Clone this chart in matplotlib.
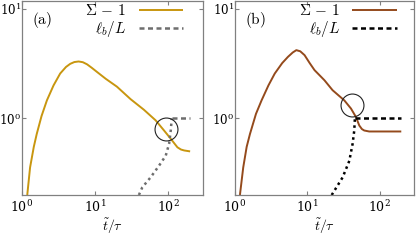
import numpy as np
import matplotlib.pyplot as plt

plt.rcParams['mathtext.fontset'] = 'cm'
plt.rcParams['font.family'] = 'serif'
plt.rcParams['font.serif'] = ['DejaVu Serif']
plt.rcParams['font.size'] = 9

# panel (a): Sigma - 1 and l_b/L
a_sig_t = [1.18, 1.29, 1.45, 1.59, 1.85, 2.19, 2.7, 3.33, 4.0, 4.57, 5.2, 5.95, 6.8, 7.76, 9.0,
           10.6, 14.0, 19.9, 30.6, 46.6, 67.5, 87.9, 108.6, 122, 134, 150, 166, 200]
a_sig_y = [0.2, 0.357, 0.55, 0.72, 1.05, 1.46, 2.0, 2.57, 2.95, 3.15, 3.27, 3.31, 3.26, 3.12, 2.9,
           2.66, 2.3, 1.95, 1.5, 1.2, 0.96, 0.776, 0.652, 0.59, 0.545, 0.52, 0.51, 0.50]
a_lb_t = [39.8, 44.3, 57.6, 75, 92.7, 103, 108.6, 111, 112, 200]
a_lb_y = [0.2, 0.235, 0.29, 0.37, 0.457, 0.586, 0.776, 0.925, 1.0, 1.0]
a_circ = (92.7, 0.80)

# panel (b)
b_sig_t = [1.17, 1.30, 1.45, 1.61, 1.95, 2.33, 2.9, 3.55, 4.5, 5.41, 6.3, 7.06, 8.0, 9.18, 10.8,
           12.6, 17.3, 22.4, 32.6, 40.3, 47.2, 52.4, 57.0, 61.4, 71.9, 200]
b_sig_y = [0.2, 0.357, 0.55, 0.72, 1.1, 1.46, 2.0, 2.57, 3.2, 3.65, 4.0, 4.2, 4.1, 3.78, 3.2,
           2.76, 2.23, 1.81, 1.46, 1.23, 1.03, 0.863, 0.80, 0.776, 0.76, 0.76]
b_lb_t = [21.8, 30.9, 38.2, 42.4, 44.7, 45.6, 200]
b_lb_y = [0.2, 0.29, 0.41, 0.586, 0.776, 1.0, 1.0]
b_circ = (41.0, 1.32)

gold = '#C8960F'
brown = '#944A1C'

fig = plt.figure(figsize=(4.16, 2.41), dpi=100)
ax1 = fig.add_axes([22/416, 46/241, 181/416, 194/241])
ax2 = fig.add_axes([235/416, 46/241, 179/416, 194/241])


def draw(ax, st, sy, lt, ly, circ, col, dcol, tag, lx):
    ax.plot(st, sy, color=col, lw=1.4, label=r'$\Sigma\,-\,1$', solid_capstyle='butt')
    k = ly.index(1.0)
    ax.plot(lt[:k + 1], ly[:k + 1], color=dcol, lw=1.8, ls=(0, (1.0, 1.4)))
    ax.plot(lt[k:], ly[k:], color=dcol, lw=1.8, ls=(0, (2.0, 1.4)), label=r'$\ell_b/L$')
    ax.plot([circ[0]], [circ[1]], marker='o', ms=16.5, mfc='none', mec='#222222', mew=0.8)
    ax.set_xscale('log')
    ax.set_yscale('log')
    ax.set_xlim(1, 300)
    ax.set_ylim(0.2, 11.8)
    ax.set_xticks([1, 10, 100])
    ax.set_yticks([1, 10])
    ax.minorticks_off()
    ax.tick_params(which='both', direction='in', top=True, right=True, length=3,
                   color='#808080', labelsize=9)
    ax.tick_params(axis='y', pad=0.5, labelsize=8.6)
    ax.tick_params(axis='x', pad=3)
    for s in ax.spines.values():
        s.set_color('#808080')
        s.set_linewidth(0.9)
    ax.set_xlabel(r'$\tilde{t}/\tau$', fontsize=10, labelpad=1)
    ax.text(0.055, 0.955, r'$\mathrm{(' + tag + ')}$', transform=ax.transAxes,
            fontsize=11, va='top')
    ax.legend(loc='upper right', frameon=False, markerfirst=False, fontsize=11,
              handlelength=2.9, handletextpad=0.8, borderaxespad=0, borderpad=0,
              labelspacing=0.1, bbox_to_anchor=(lx, 0.99))


draw(ax1, a_sig_t, a_sig_y, a_lb_t, a_lb_y, a_circ, gold, '#6E6E6E', 'a', 0.889)
draw(ax2, b_sig_t, b_sig_y, b_lb_t, b_lb_y, b_circ, brown, 'black', 'b', 0.903)

fig.savefig('out.png', dpi=100)
